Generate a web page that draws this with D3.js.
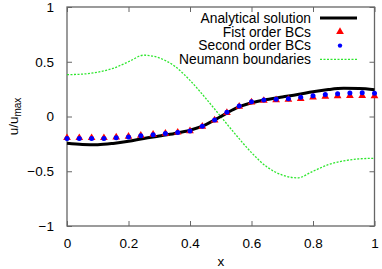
<!DOCTYPE html>
<html>
<head>
<meta charset="utf-8">
<script src="https://cdn.jsdelivr.net/npm/d3@7"></script>
<style>
  body { margin: 0; background: #fff; }
  text { font-family: "Liberation Sans", Arial, sans-serif; }
</style>
</head>
<body>
<div id="chart"></div>
<script>
// data
const curveX = [0, 0.05, 0.1, 0.15, 0.2, 0.25, 0.3, 0.35, 0.4, 0.45, 0.5,
                0.55, 0.6, 0.65, 0.7, 0.75, 0.8, 0.85, 0.9, 0.95, 1]
const analytical = [-0.245, -0.255, -0.257, -0.246, -0.226, -0.2, -0.178, -0.155, -0.125, -0.076, 0,
                    0.076, 0.125, 0.155, 0.178, 0.2, 0.226, 0.246, 0.257, 0.255, 0.245]
const neumann = [0.382, 0.387, 0.405, 0.44, 0.5, 0.56, 0.535, 0.46, 0.33, 0.17, 0,
                 -0.17, -0.33, -0.46, -0.535, -0.56, -0.5, -0.44, -0.405, -0.387, -0.382]

const markX = [0, 0.04, 0.08, 0.12, 0.16, 0.2, 0.24, 0.28, 0.32, 0.36, 0.4, 0.44, 0.48,
               0.52, 0.56, 0.6, 0.64, 0.68, 0.72, 0.76, 0.8, 0.84, 0.88, 0.92, 0.96, 1]
const firstOrder = [-0.195, -0.195, -0.195, -0.195, -0.19, -0.183, -0.173, -0.164, -0.155, -0.145, -0.133, -0.092, -0.035,
                    0.035, 0.092, 0.13, 0.145, 0.15, 0.155, 0.163, 0.175, 0.183, 0.188, 0.19, 0.19, 0.188]
const secondOrder = [-0.2, -0.2, -0.2, -0.2, -0.195, -0.187, -0.176, -0.166, -0.156, -0.145, -0.132, -0.09, -0.032,
                     0.038, 0.095, 0.134, 0.15, 0.157, 0.163, 0.175, 0.19, 0.2, 0.208, 0.215, 0.216, 0.212]

const xTicks = [0, 0.2, 0.4, 0.6, 0.8, 1]
const yTicks = [-1, -0.5, 0, 0.5, 1]
const legendLabels = ["Analytical solution", "Fist order BCs", "Second order BCs", "Neumann boundaries"]

const width = 382
const height = 269
const margin = {left: 67, right: 7.5, top: 7, bottom: 43}

const x = d3.scaleLinear().domain([0, 1]).range([margin.left, width - margin.right])
const y = d3.scaleLinear().domain([-1, 1]).range([height - margin.bottom, margin.top])

const svg = d3.select("#chart").append("svg")
  .attr("width", width)
  .attr("height", height)

// axes, ticks pointing inward on all four sides
const tickLen = 5
svg.append("g")
  .attr("transform", `translate(0,${y(-1)})`)
  .call(d3.axisBottom(x).tickValues(xTicks).tickSizeInner(-tickLen).tickSizeOuter(0).tickPadding(12)
    .tickFormat(d3.format("")))
svg.append("g")
  .attr("transform", `translate(0,${y(1)})`)
  .call(d3.axisTop(x).tickValues(xTicks).tickSizeInner(-tickLen).tickSizeOuter(0).tickFormat(""))
svg.append("g")
  .attr("transform", `translate(${x(0)},0)`)
  .call(d3.axisLeft(y).tickValues(yTicks).tickSizeInner(-tickLen).tickSizeOuter(0).tickPadding(13)
    .tickFormat(d3.format("")))
svg.append("g")
  .attr("transform", `translate(${x(1)},0)`)
  .call(d3.axisRight(y).tickValues(yTicks).tickSizeInner(-tickLen).tickSizeOuter(0).tickFormat(""))

svg.selectAll(".domain").remove()
svg.selectAll(".tick line").attr("stroke", "#666")
svg.selectAll(".tick text").attr("font-size", 13.5).attr("fill", "#000")

svg.append("rect")
  .attr("x", x(0)).attr("y", y(1))
  .attr("width", x(1) - x(0)).attr("height", y(-1) - y(1))
  .attr("fill", "none").attr("stroke", "#666").attr("stroke-width", 1.3)

// axis titles
svg.append("text")
  .attr("x", x(0.5)).attr("y", 266)
  .attr("text-anchor", "middle").attr("font-size", 13.5)
  .text("x")

const ylab = svg.append("text")
  .attr("transform", `translate(18,${y(0)}) rotate(-90)`)
  .attr("text-anchor", "middle").attr("font-size", 13.5)
ylab.append("tspan").text("u/u")
ylab.append("tspan").attr("font-size", 10).attr("dy", 3).text("max")

// lines
const line = d3.line()
  .x(d => x(d[0]))
  .y(d => y(d[1]))
  .curve(d3.curveMonotoneX)

svg.append("path")
  .datum(curveX.map((v, i) => [v, neumann[i]]))
  .attr("d", line)
  .attr("fill", "none")
  .attr("stroke", "#2ee62e")
  .attr("stroke-width", 1.3)
  .attr("stroke-dasharray", "2,1.5")

svg.append("path")
  .datum(curveX.map((v, i) => [v, analytical[i]]))
  .attr("d", line)
  .attr("fill", "none")
  .attr("stroke", "#000")
  .attr("stroke-width", 3)

// markers
const tri = d3.symbol().type(d3.symbolTriangle).size(26)
svg.append("g").selectAll("path")
  .data(markX.map((v, i) => [v, firstOrder[i]]))
  .enter().append("path")
  .attr("d", tri)
  .attr("transform", d => `translate(${x(d[0])},${y(d[1])})`)
  .attr("fill", "#ff0000")

svg.append("g").selectAll("circle")
  .data(markX.map((v, i) => [v, secondOrder[i]]))
  .enter().append("circle")
  .attr("cx", d => x(d[0]))
  .attr("cy", d => y(d[1]))
  .attr("r", 2.5)
  .attr("fill", "#0000ff")

// legend
const legend = svg.append("g")
const rowY = i => 18 + i * 13.8
legend.selectAll("text")
  .data(legendLabels)
  .enter().append("text")
  .attr("x", 311)
  .attr("y", (d, i) => rowY(i) + 4.8)
  .attr("text-anchor", "end")
  .attr("font-size", 13.8)
  .text(d => d)

legend.append("line")
  .attr("x1", 320).attr("x2", 357).attr("y1", rowY(0)).attr("y2", rowY(0))
  .attr("stroke", "#000").attr("stroke-width", 3)
legend.append("path")
  .attr("d", tri)
  .attr("transform", `translate(340,${rowY(1)})`)
  .attr("fill", "#ff0000")
legend.append("circle")
  .attr("cx", 340).attr("cy", rowY(2)).attr("r", 2.2)
  .attr("fill", "#0000ff")
legend.append("line")
  .attr("x1", 320).attr("x2", 357).attr("y1", rowY(3)).attr("y2", rowY(3))
  .attr("stroke", "#2ee62e").attr("stroke-width", 1.3)
  .attr("stroke-dasharray", "2,1.5")
</script>
</body>
</html>
